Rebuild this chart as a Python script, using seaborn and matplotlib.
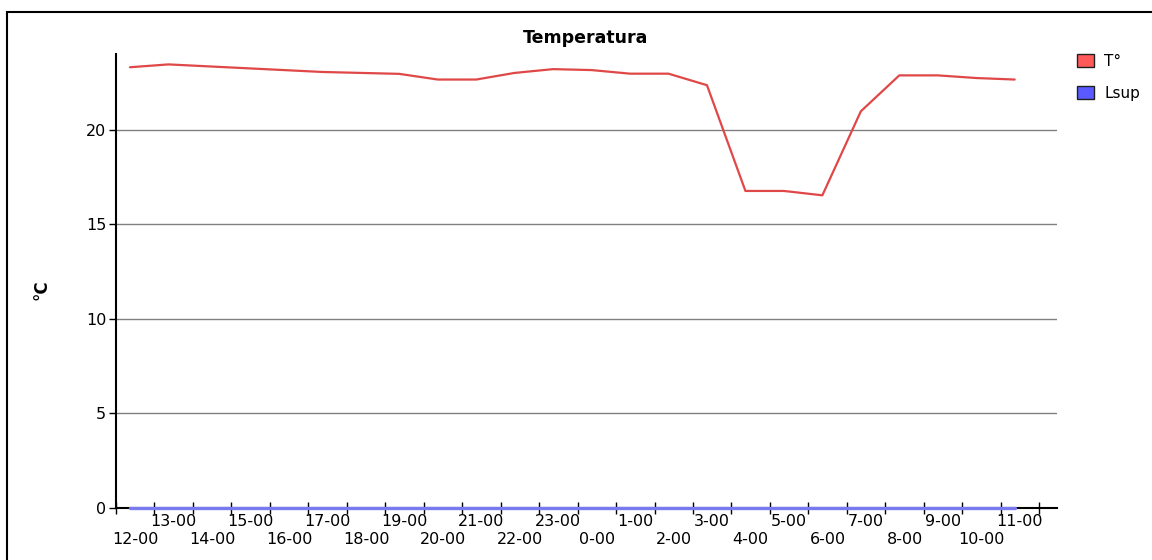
import matplotlib
matplotlib.use("Agg")
import matplotlib.pyplot as plt
from matplotlib.patches import Patch, Rectangle
import seaborn as sns
import pandas as pd
import numpy as np

hours = ["12-00", "13-00", "14-00", "15-00", "16-00", "17-00", "18-00", "19-00",
         "20-00", "21-00", "22-00", "23-00", "0-00", "1-00", "2-00", "3-00",
         "4-00", "5-00", "6-00", "7-00", "8-00", "9-00", "10-00", "11-00"]
temp = [23.3, 23.45, 23.35, 23.25, 23.15, 23.05, 23.0, 22.95,
        22.65, 22.65, 23.0, 23.2, 23.15, 22.96, 22.96, 22.35,
        16.76, 16.76, 16.53, 20.97, 22.87, 22.87, 22.73, 22.65]
lsup = [0] * 24
series_names = ["T°", "Lsup"]
line_colors = ["#e04848", "#7a7af0"]
patch_colors = ["#ff5a5a", "#5a5aff"]

sns.set_style("white")
plt.rcParams['font.family'] = ['DejaVu Sans']
plt.rcParams['text.color'] = 'black'
plt.rcParams['xtick.color'] = 'black'
plt.rcParams['ytick.color'] = 'black'

fig = plt.figure(figsize=(11.52, 5.6), dpi=100)
ax = fig.add_axes([116/1152, 1-508/560, 941/1152, 454/560])

x = np.arange(len(hours))
df = pd.DataFrame({
    "x": np.concatenate([x, x]),
    "value": temp + lsup,
    "series": [series_names[0]]*len(x) + [series_names[1]]*len(x),
})
sns.lineplot(data=df[df.series == series_names[0]], x="x", y="value", color=line_colors[0],
             linewidth=1.6, ax=ax, legend=False, zorder=4)
sns.lineplot(data=df[df.series == series_names[1]], x="x", y="value", color=line_colors[1],
             linewidth=2.4, ax=ax, legend=False, zorder=5, clip_on=False)

off = -0.364
ax.set_xlim(off, 24.1)
ax.set_ylim(0, 24)
ax.set_xlabel("")
ax.set_ylabel("")

# y axis
ax.set_yticks([0, 5, 10, 15, 20])
ax.set_yticklabels(["0", "5", "10", "15", "20"])
ax.tick_params(axis="y", left=True, direction="out", length=5, width=1, colors="black",
               labelsize=11.5, pad=2)
for v in [5, 10, 15, 20]:
    ax.axhline(v, color="#808080", linewidth=1.0, zorder=1)

# x axis: boundary ticks + centered labels in two rows
ax.set_xticks([off + j for j in range(25)])
ax.set_xticklabels([])
ax.tick_params(axis="x", which="major", bottom=True, direction="inout", length=9, width=1,
               colors="black")
upper_idx = [i for i in range(len(hours)) if i % 2 == 1]
lower_idx = [i for i in range(len(hours)) if i % 2 == 0]
ax.set_xticks([off + i + 0.5 for i in upper_idx], minor=True)
ax.set_xticklabels([hours[i] for i in upper_idx], minor=True)
ax.tick_params(axis="x", which="minor", bottom=True, length=0, labelsize=11.5, pad=4)
for i in lower_idx:
    ax.annotate(hours[i], xy=(off + i + 0.5, 0), xycoords=ax.get_xaxis_transform(),
                xytext=(0, -17), textcoords="offset points", ha="center", va="top",
                fontsize=11.5, color="black", annotation_clip=False)

for s in ["top", "right"]:
    ax.spines[s].set_visible(False)
ax.spines["left"].set_linewidth(1.5)
ax.spines["bottom"].set_linewidth(1.5)
ax.spines["left"].set_color("black")
ax.spines["bottom"].set_color("black")
ax.grid(False)

fig.text(586/1152, 1-38/560, "Temperatura", ha="center", va="center",
         fontsize=12.5, fontweight="bold")
fig.text(41/1152, 1-290/560, "°C", ha="center", va="center", rotation=90,
         fontsize=12, fontweight="bold")

handles = [Patch(facecolor=c, edgecolor="#202020", linewidth=1.0) for c in patch_colors]
fig.legend(handles, series_names, loc="upper left", bbox_to_anchor=(1077/1152, 1-54/560),
           frameon=False, handlelength=1.1, handleheight=0.9, handletextpad=0.7,
           labelspacing=1.1, fontsize=11, borderpad=0, borderaxespad=0)

fig.patches.append(Rectangle((7/1152, -0.1), 1.2, 1-12/560+0.1, transform=fig.transFigure,
                             fill=False, edgecolor="black", linewidth=1.5, zorder=0))

fig.savefig("out.png", dpi=100, facecolor="white")
